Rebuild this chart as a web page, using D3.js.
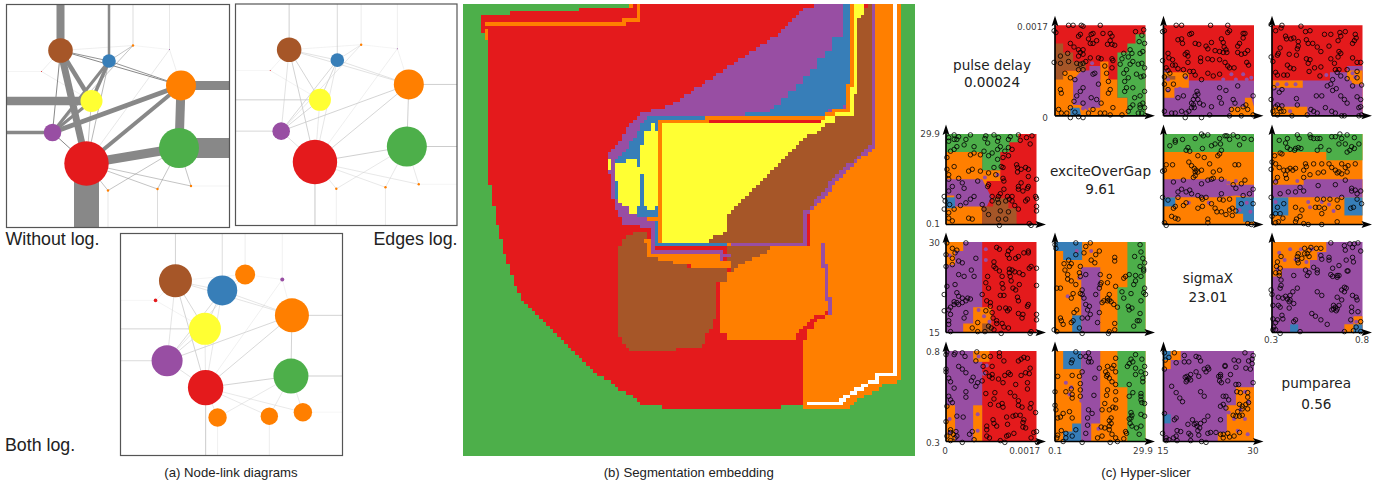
<!DOCTYPE html>
<html lang="en">
<head>
<meta charset="utf-8">
<title>Node-link, segmentation embedding and hyper-slicer</title>
<script src="https://d3js.org/d3.v7.min.js"></script>
<style>
  body { margin: 0; background: #fff; }
  .cap { font-family: "Liberation Sans", sans-serif; fill: #222; }
  .mpl { font-family: "DejaVu Sans", sans-serif; fill: #222; }
</style>
</head>
<body>
<script>
// Set1 colours, by letter
const colors = { r: "#e41a1c", b: "#377eb8", g: "#4daf4a", p: "#984ea3", o: "#ff7f00", y: "#ffff33", n: "#a65628", w: "#ffffff" };

// ---- (a) node-link data. Nodes 13+ sit outside the frame, they only anchor edges
const nodeColors = ["n", "b", "o", "y", "p", "r", "g", "o", "p", "r", "o", "o", "o"];
const nodeRadius = [12.3, 6.8, 15, 11, 8.8, 22.2, 20, 1.2, 0.5, 0.5, 1.2, 1.2, 1.2];
const nodeRadiusLog = [16.5, 15, 17, 16, 15.5, 17.7, 17.5, 10, 2, 1.8, 9.2, 8.7, 9.2];
const graphX = [54, 102.5, 174.5, 85, 46, 80, 172.5, 126.5, 163, 35, 101.5, 151, 184.5, 54, 102.5, 126.5, 163, 240, -20, -20, 240, 80, 101.5, 151, -20, 240];
const graphY = [46, 56.5, 81, 96.5, 128, 159, 143.5, 41, 45, 67, 186, 184.5, 181.5, -20, -20, -20, -20, 81, 96.5, 128, 143.5, 240, 240, 240, 67, 181.5];
const logGraphX = [55.2, 102.2, 172.2, 84.8, 46.8, 85.5, 171.2, 125.2, 162.5, 35.2, 97.5, 149.5, 183.2, 55.2, 102.2, 125.2, 162.5, 240, -20, -20, 240, 85.5, 97.5, 149.5, -20, 240];
const logGraphY = [47.5, 57.2, 82.2, 95.8, 127.8, 154.8, 143.2, 41.2, 46.2, 67.2, 184.8, 183.5, 179.5, -20, -20, -20, -20, 82.2, 95.8, 127.8, 143.2, 240, 240, 240, 67.2, 179.5];
const edgeList = [
  [0, 13, 8], [1, 14, 2.5], [7, 15, 0.3], [8, 16, 0.2], [2, 17, 9], [3, 18, 8.5], [4, 19, 3.5], [6, 20, 20], [5, 21, 25],
  [11, 23, 0.3], [10, 22, 0.2], [9, 24, 0.1], [12, 25, 0.1],
  [0, 5, 7], [0, 3, 4.5], [0, 1, 0.9], [0, 2, 1], [1, 2, 0.9], [1, 3, 3.5], [1, 4, 3], [1, 5, 0.6], [3, 4, 3], [3, 5, 0.5],
  [0, 4, 1], [4, 2, 5], [5, 2, 4], [5, 6, 9], [2, 6, 9], [4, 5, 1], [1, 7, 0.5], [0, 7, 0.15], [4, 7, 0.5], [5, 10, 0.5],
  [5, 11, 0.5], [5, 12, 0.5], [10, 6, 0.5], [11, 6, 0.5], [12, 6, 0.5], [9, 3, 0.15], [9, 0, 0.15], [8, 2, 0.15], [8, 5, 0.2], [7, 8, 0.1]
];

// ---- (b) segmentation regions, painted in order on a green ground, in embedding units
const segRed = [[65,100],[65,45],[155,45],[155,35],[355,35],[355,24],[510,24],[510,12],[1222,12],[1222,24],[1100,24],[1100,1212],[965,1212],[965,1223],[621,1223],[543,1212],[520,1190],[476,1168],[453,1145],[409,1123],[387,1100],[364,1080],[342,1057],[297,1012],[253,968],[209,923],[187,900],[176,880],[165,855],[153,812],[142,790],[131,745],[120,700],[108,655],[97,590],[88,545],[88,122],[77,122],[77,100]];
const segPurpleBand = [[1077,12],[1033,24],[1020,35],[1000,58],[978,80],[955,102],[922,124],[888,147],[855,168],[822,190],[788,212],[755,235],[722,258],[688,280],[655,302],[610,325],[555,336],[533,347],[510,370],[488,415],[465,435],[443,458],[443,525],[455,530],[455,580],[465,620],[478,645],[488,670],[545,680],[600,680],[610,350],[1160,350],[1160,12]];
const segBlue = [[1145,12],[1145,110],[1120,112],[1120,155],[1098,157],[1098,180],[1075,180],[1075,202],[1055,202],[1055,225],[1033,225],[1033,247],[1010,247],[1010,270],[988,270],[988,290],[965,290],[965,313],[943,313],[930,335],[855,335],[855,347],[575,347],[555,360],[533,395],[510,435],[488,460],[465,480],[470,600],[510,625],[530,650],[590,660],[598,720],[610,720],[610,360],[1077,350],[1120,325],[1155,320],[1155,258],[1165,258],[1165,12]];
const segBrownUp = [[1187,58],[1208,45],[1208,24],[1231,12],[1231,435],[1210,450],[1190,470],[1175,490],[1145,505],[1130,530],[1110,550],[1090,580],[1070,605],[1050,630],[1035,640],[1035,723],[740,723],[740,600],[1087,360],[1176,345],[1176,282],[1187,280]];
const segOrangeRight = [[1243,12],[1320,12],[1320,1145],[1275,1150],[1265,1165],[1240,1175],[1215,1190],[1190,1200],[1165,1223],[1033,1223],[1033,1025],[1043,1025],[1043,990],[1065,990],[1065,965],[1110,945],[1108,895],[1096,890],[1096,790],[1085,790],[1085,735],[1045,735],[1045,640],[1070,610],[1090,585],[1110,560],[1130,535],[1150,510],[1175,495],[1195,475],[1215,455],[1243,440]];
const segYellowMain = [[610,370],[1087,370],[1087,380],[1075,398],[1042,405],[1020,425],[998,447],[975,470],[953,490],[930,515],[908,537],[885,560],[865,580],[842,603],[820,625],[808,635],[798,658],[798,700],[755,712],[750,723],[610,723]];
const segYellowStrip = [[1177,12],[1208,12],[1208,45],[1187,58],[1187,280],[1176,282],[1176,345],[1135,347],[1122,368],[1087,378],[1087,360],[1135,335],[1165,335],[1165,260],[1177,258]];
const segYellowA = [[555,392],[575,392],[578,370],[586,370],[586,392],[597,392],[597,600],[587,620],[575,632],[565,632],[555,620],[555,520],[543,520],[543,435],[555,435]];
const segYellowB = [[465,490],[520,480],[530,472],[533,500],[543,500],[543,620],[510,620],[490,615],[478,612],[478,545],[465,545]];
const segYellowC = [[443,480],[455,480],[455,512],[443,512]];
const segYellowD = [[510,622],[530,622],[530,645],[510,645]];
const segBrownLow = [[487,725],[500,705],[555,690],[565,720],[565,768],[600,778],[643,788],[688,802],[800,802],[800,845],[765,845],[765,955],[755,960],[750,1000],[740,1005],[730,1030],[710,1045],[520,1055],[498,1040],[488,1020],[477,1000],[477,745]];
const segBrownSmall = [[800,735],[935,735],[920,755],[890,770],[865,782],[845,792],[822,810],[808,810],[808,780],[800,775]];
const segOrangeMid = [[777,845],[800,845],[800,810],[820,812],[845,792],[865,782],[885,770],[910,760],[930,750],[945,735],[1088,735],[1088,800],[1100,800],[1100,900],[1110,910],[1110,933],[1055,955],[1033,980],[1010,1000],[1010,1023],[800,1023],[800,1000],[777,1000]];
const segOrangeLow = [[555,715],[577,715],[577,755],[780,755],[780,780],[810,780],[810,802],[688,802],[688,788],[643,788],[643,778],[600,778],[600,768],[565,768]];
const segRegions = [
  ["r", segRed], ["p", segPurpleBand], ["b", segBlue], ["n", segBrownUp], ["o", segOrangeRight], ["y", segYellowStrip],
  ["n", segBrownLow], ["n", segBrownSmall], ["o", segOrangeMid], ["o", segOrangeLow], ["y", segYellowMain],
  ["y", segYellowA], ["y", segYellowB], ["y", segYellowC], ["y", segYellowD]
];
// one-cell wide outlines
const segLines = [
  ["o", [[82,74],[492,74],[492,63],[537,63],[537,12]]],
  ["o", [[82,90],[82,110]]],
  ["o", [[515,12],[515,20]]],
  ["o", [[1171,12],[1171,258],[1162,262],[1162,328],[1125,328],[1120,340],[1082,352],[604,362],[604,728],[820,728]]],
  ["p", [[1237,12],[1237,440],[1215,455],[1195,475],[1175,495],[1150,510],[1130,535],[1110,560],[1090,585],[1070,610],[1045,635],[1038,640],[1038,728],[822,728]]],
  ["p", [[1084,728],[1084,795],[1095,795],[1095,895],[1105,895],[1105,935]]],
  ["b", [[592,660],[592,738],[800,738]]],
  ["p", [[575,690],[575,750],[780,750],[780,775],[805,762]]],
  ["o", [[566,662],[590,662]]],
  ["w", [[1303,12],[1303,1125],[1255,1127],[1250,1140],[1225,1150],[1200,1165],[1175,1180],[1155,1195],[1145,1207],[1045,1207]]]
];

// ---- (c) sample pairs as percent of each parameter range, [x, y]
const excitePulse = [[15,100],[20,100],[29,100],[31,99],[50,100],[-1,94],[1,92],[89,93],[98,95],[96,89],[93,82],[99,80],[26,88],[28,90],[40,90],[42,91],[53,91],[61,91],[63,88],[37,85],[39,80],[42,80],[46,83],[61,83],[58,79],[63,79],[66,78],[17,80],[21,76],[26,73],[28,70],[31,73],[31,68],[26,66],[14,69],[6,66],[-1,59],[6,58],[15,60],[24,58],[28,57],[31,58],[34,60],[39,64],[48,64],[51,63],[63,63],[64,61],[76,69],[83,73],[85,69],[81,65],[94,69],[97,71],[86,60],[92,57],[96,58],[99,53],[83,57],[79,51],[76,47],[81,42],[77,38],[90,46],[95,43],[98,44],[74,63],[72,57],[26,51],[31,51],[42,46],[44,47],[55,55],[57,47],[63,53],[59,38],[61,29],[59,25],[48,35],[31,31],[28,27],[22,40],[17,42],[11,47],[6,29],[7,25],[24,22],[21,16],[31,14],[40,20],[46,18],[51,14],[42,7],[50,3],[55,3],[61,1],[64,9],[74,1],[79,31],[77,27],[86,31],[99,27],[94,22],[88,20],[97,14],[94,12],[86,12],[83,9],[81,5],[94,9],[99,9],[96,3],[92,3],[7,3],[13,3],[17,-2],[22,4],[17,9],[26,-1],[31,-2],[37,3],[4,7]];
const sigmaPulse = [[14,100],[20,100],[52,100],[71,100],[73,94],[-1,93],[1,94],[31,91],[29,90],[71,92],[88,91],[90,91],[88,86],[20,85],[21,80],[16,84],[35,80],[39,79],[53,81],[64,85],[66,81],[84,80],[82,77],[67,76],[69,73],[70,70],[57,72],[62,71],[66,70],[47,77],[49,74],[26,70],[24,68],[27,66],[5,69],[6,64],[10,62],[13,56],[10,56],[3,53],[5,50],[7,47],[-1,61],[27,59],[41,64],[41,60],[49,63],[54,62],[62,62],[68,59],[71,55],[73,53],[82,70],[86,68],[93,72],[90,69],[92,59],[94,56],[78,53],[29,49],[33,49],[35,45],[42,40],[49,47],[55,44],[62,46],[22,51],[16,52],[24,44],[1,43],[1,35],[5,29],[11,35],[62,31],[69,28],[82,33],[99,22],[37,27],[38,24],[35,22],[22,22],[16,20],[38,18],[44,12],[40,14],[33,12],[31,9],[28,5],[25,3],[20,5],[9,3],[13,3],[1,5],[24,-2],[34,9],[42,-2],[51,1],[53,10],[62,20],[64,14],[77,18],[79,14],[75,7],[82,7],[88,10],[91,12],[93,7],[99,1],[73,0],[86,0],[33,18],[31,14]];
const areaPulse = [[11,100],[10,97],[4,94],[-1,101],[32,99],[42,94],[37,93],[58,90],[65,90],[75,92],[81,93],[76,88],[73,83],[92,90],[93,86],[91,83],[89,80],[15,88],[16,85],[21,85],[24,86],[38,84],[40,80],[45,80],[29,82],[29,77],[28,74],[63,77],[50,76],[54,71],[9,75],[7,69],[6,67],[-1,65],[1,60],[19,68],[27,67],[38,63],[42,62],[40,58],[74,71],[76,69],[73,65],[89,64],[98,59],[94,59],[17,56],[20,53],[24,52],[41,49],[47,53],[54,54],[65,63],[69,58],[70,51],[74,51],[72,48],[76,44],[83,51],[83,41],[94,49],[4,48],[6,45],[13,45],[17,45],[53,44],[67,40],[65,35],[61,33],[71,30],[67,28],[89,33],[99,34],[94,42],[11,29],[8,26],[2,31],[27,19],[49,22],[55,22],[76,22],[80,18],[83,14],[94,21],[98,18],[-1,18],[6,12],[11,11],[4,10],[8,8],[13,5],[10,5],[1,5],[6,1],[28,12],[43,7],[46,5],[50,3],[59,9],[66,5],[70,3],[77,0],[80,0],[96,0],[99,1],[98,10],[96,9],[39,1],[22,0]];
const sigmaExcite = [[13,91],[7,87],[13,93],[21,94],[35,95],[42,100],[44,98],[49,99],[57,89],[53,87],[62,95],[68,98],[70,98],[77,99],[82,97],[89,95],[97,94],[73,94],[84,88],[63,89],[64,82],[60,76],[62,78],[25,82],[29,81],[27,85],[38,76],[43,84],[45,74],[10,66],[1,60],[-1,59],[3,66],[28,69],[31,65],[34,62],[36,60],[38,58],[35,58],[35,54],[33,52],[42,60],[51,67],[55,58],[62,60],[79,66],[83,66],[53,50],[55,51],[49,49],[11,47],[22,49],[42,45],[64,50],[80,40],[77,44],[90,49],[86,45],[99,39],[95,34],[88,32],[20,39],[16,36],[25,36],[29,38],[31,34],[38,32],[42,30],[43,28],[47,30],[16,30],[-1,30],[64,34],[62,28],[66,27],[73,28],[5,27],[13,20],[11,18],[22,21],[25,24],[38,18],[43,20],[57,18],[59,14],[64,14],[73,16],[76,18],[69,11],[76,10],[86,23],[53,23],[99,23],[9,9],[13,7],[16,6],[1,2],[3,-1],[49,6],[49,2],[93,1],[97,0],[80,15]];
const areaExcite = [[28,99],[42,99],[30,95],[17,95],[8,93],[43,96],[46,95],[50,95],[53,95],[66,97],[70,97],[75,100],[83,99],[77,95],[74,89],[81,89],[91,96],[96,89],[88,86],[86,82],[83,80],[91,84],[15,90],[17,85],[26,84],[29,85],[20,83],[25,82],[32,84],[9,79],[11,78],[3,76],[54,86],[63,82],[50,82],[4,67],[0,69],[-1,61],[8,63],[13,60],[17,60],[20,62],[23,60],[26,62],[37,67],[38,64],[46,67],[55,67],[66,63],[63,67],[70,60],[72,57],[74,58],[77,67],[81,63],[84,65],[92,67],[6,52],[15,55],[16,51],[35,60],[35,52],[42,55],[51,57],[57,58],[77,56],[83,58],[81,49],[4,47],[31,41],[35,37],[51,43],[70,44],[88,40],[92,38],[98,37],[94,34],[88,37],[-1,30],[9,34],[18,36],[26,36],[50,28],[57,28],[64,28],[72,27],[77,30],[94,28],[99,23],[90,19],[87,18],[13,23],[6,19],[26,19],[33,16],[48,19],[52,19],[58,18],[73,19],[4,12],[9,12],[0,9],[12,7],[7,3],[4,2],[31,9],[27,6],[26,3],[35,1],[40,0],[55,12],[72,3],[55,0]];
const areaSigma = [[65,99],[80,96],[86,98],[91,98],[95,99],[89,94],[81,91],[98,90],[43,94],[49,93],[54,93],[41,91],[36,93],[36,87],[39,87],[41,84],[29,87],[28,84],[28,80],[33,82],[29,77],[6,78],[10,84],[5,73],[9,71],[4,66],[8,66],[8,63],[54,85],[63,83],[63,80],[46,72],[55,81],[89,83],[90,78],[82,80],[67,71],[74,74],[50,69],[50,66],[37,69],[41,66],[39,63],[24,63],[65,64],[67,62],[72,63],[74,63],[72,61],[84,68],[83,68],[10,58],[10,52],[-1,47],[0,42],[9,49],[28,49],[23,45],[20,41],[15,40],[17,37],[20,36],[19,34],[12,38],[7,39],[24,32],[1,30],[7,30],[9,28],[19,27],[50,45],[55,41],[72,39],[80,50],[82,49],[77,47],[80,45],[89,41],[93,39],[94,36],[77,36],[68,30],[70,28],[72,26],[68,26],[74,30],[71,24],[66,25],[88,28],[88,23],[95,23],[44,21],[48,18],[54,14],[61,9],[11,19],[12,15],[1,15],[6,14],[4,11],[26,14],[24,12],[1,3],[9,-1],[31,1],[80,1],[90,2],[98,1],[93,6],[98,12],[2,6],[4,3],[87,14]];

// tile regions of each slice, percent of the ranges, painted in order
const slicePE = [["r",[[0,0],[100,0],[100,100],[0,100]]],
  ["o",[[0,50],[34,50],[34,40],[50,40],[50,60],[59,60],[59,40],[69,40],[69,20],[80,20],[80,0],[0,0]]],
  ["p",[[20,40],[30,50],[38,50],[38,55],[50,55],[50,9],[37,9],[37,5],[28,12],[20,12]]],
  ["b",[[17,9],[27,9],[29,0],[17,0]]],
  ["n",[[0,80],[9,80],[9,70],[20,70],[20,60],[34,60],[34,50],[9,50],[9,40],[0,40]]],
  ["g",[[89,90],[100,90],[100,0],[80,0],[80,20],[69,20],[69,70],[80,70],[80,80],[89,80]]]];
const slicePS = [["r",[[0,0],[100,0],[100,100],[0,100]]],
  ["p",[[0,50],[5,50],[5,39],[100,39],[100,0],[0,0]]],
  ["o",[[0,48],[28,48],[28,31],[12,31],[12,20],[0,20]]],
  ["n",[[2,44],[13,44],[13,40],[2,40]]],
  ["o",[[74,10],[90,10],[90,20],[97,20],[100,10],[100,0],[74,0]]]];
const slicePA = [["r",[[0,0],[100,0],[100,100],[0,100]]],
  ["p",[[0,39],[64,39],[64,48],[83,48],[83,55],[100,55],[100,0],[0,0]]],
  ["o",[[0,39],[34,39],[34,31],[0,31]]],
  ["o",[[0,10],[39,10],[39,1],[0,1]]],
  ["o",[[83,50],[100,50],[100,35],[90,35],[83,41]]]];
const sliceEP = [["r",[[0,0],[100,0],[100,100],[0,100]]],
  ["o",[[0,80],[40,80],[40,60],[60,60],[60,48],[45,48],[45,30],[40,20],[40,0],[0,0]]],
  ["p",[[0,50],[40,50],[50,30],[45,20],[9,20],[9,32],[0,32]]],
  ["b",[[0,30],[10,30],[10,18],[0,18]]],
  ["n",[[40,20],[52,20],[52,29],[69,29],[69,18],[78,18],[78,0],[40,0]]],
  ["g",[[0,100],[80,100],[80,91],[70,91],[70,80],[60,80],[60,60],[40,60],[40,80],[0,80]]]];
const sliceES = [["o",[[0,0],[100,0],[100,100],[0,100]]],
  ["g",[[0,100],[100,100],[100,80],[0,80]]],
  ["p",[[0,50],[70,50],[70,44],[100,44],[100,30],[80,32],[60,30],[0,30]]],
  ["b",[[0,30],[13,30],[13,20],[0,20]]],
  ["b",[[80,30],[100,30],[100,3],[88,3],[88,12],[80,12]]]];
const sliceEA = [["o",[[0,0],[100,0],[100,100],[0,100]]],
  ["g",[[0,100],[100,100],[100,71],[60,71],[60,80],[0,80]]],
  ["p",[[0,44],[35,44],[35,50],[100,50],[100,30],[0,30]]],
  ["b",[[0,30],[18,30],[18,10],[0,10]]],
  ["b",[[80,30],[100,30],[100,10],[80,10]]]];
const sliceSP = [["r",[[0,0],[100,0],[100,100],[0,100]]],
  ["p",[[0,100],[40,100],[40,0],[0,0]]],
  ["o",[[0,100],[19,100],[19,90],[10,90],[10,75],[0,75]]],
  ["o",[[30,28],[50,28],[50,0],[19,0],[19,10],[30,10]]],
  ["n",[[40,10],[50,10],[50,0],[40,0]]]];
const sliceSE = [["o",[[0,0],[100,0],[100,100],[0,100]]],
  ["g",[[80,100],[100,100],[100,0],[69,0],[69,50],[80,50]]],
  ["b",[[0,100],[30,100],[30,80],[9,80],[9,90],[0,90]]],
  ["p",[[29,72],[50,72],[50,0],[29,0]]],
  ["b",[[19,19],[29,19],[29,0],[19,0]]]];
const sliceSA = [["p",[[0,0],[100,0],[100,100],[0,100]]],
  ["o",[[0,100],[60,100],[60,89],[50,89],[50,80],[42,80],[42,71],[11,71],[11,62],[0,62]]],
  ["o",[[80,9],[90,9],[90,18],[100,18],[100,0],[80,0]]],
  ["b",[[90,9],[100,9],[100,0],[90,0]]],
  ["b",[[20,9],[29,9],[29,0],[20,0]]]];
const sliceAP = [["r",[[0,0],[100,0],[100,100],[0,100]]],
  ["p",[[0,100],[40,100],[40,0],[0,0]]],
  ["o",[[30,100],[48,100],[48,88],[30,88]]],
  ["o",[[0,40],[10,40],[10,0],[0,0]]],
  ["o",[[30,40],[40,40],[40,0],[30,0]]]];
const sliceAE = [["o",[[0,0],[100,0],[100,100],[0,100]]],
  ["g",[[69,100],[100,100],[100,0],[80,0],[80,60],[69,60]]],
  ["b",[[9,100],[29,100],[29,80],[9,80]]],
  ["p",[[29,100],[50,100],[50,20],[40,20],[40,0],[29,0]]],
  ["b",[[9,11],[19,11],[19,20],[29,20],[29,0],[9,0]]]];
const sliceAS = [["p",[[0,0],[100,0],[100,100],[0,100]]],
  ["b",[[0,100],[8,100],[8,90],[0,90]]],
  ["o",[[8,100],[19,100],[19,90],[8,90],[8,80],[0,80],[0,90],[8,90]]],
  ["b",[[0,30],[8,30],[8,20],[0,20]]],
  ["o",[[80,60],[100,60],[100,0],[60,0],[60,10],[70,10],[70,40],[80,40]]]];

// coloured dots the slicer leaves on tile borders, percent again
const dotsPE = [[41,58],[44,52],[28,45],[33,30],[31,8]];
const dotsPS = [[5,40],[5,28],[18,30],[25,42],[75,46],[88,46],[97,42],[66,40],[80,40],[92,40],[83,15]];
const dotsPA = [[6,35],[16,35],[26,35],[60,45],[74,47],[89,47],[92,43],[86,37],[20,5]];
const dotsEP = [[18,35],[43,52],[57,55],[15,25]];
const dotsES = [[72,46],[80,48],[88,40],[50,24],[28,24],[92,24],[84,16],[96,14]];
const dotsEA = [[28,48],[4,48],[40,25],[55,25],[63,22],[42,19],[4,25],[68,15]];
const dotsSP = [[44,92],[44,80],[4,85],[36,25],[42,18],[48,12]];
const dotsSE = [[24,90],[40,90],[27,60],[14,40],[35,15]];
const dotsSA = [[8,88],[20,92],[32,92],[44,92],[26,81],[14,80],[6,70],[38,78],[93,12]];
const dotsAP = [[36,94],[42,75],[45,84],[4,25],[4,10],[35,30],[35,12]];
const dotsAE = [[12,65],[16,52],[18,60],[48,14],[29,45]];
const dotsAS = [[90,55],[94,44],[85,35],[78,25],[90,25],[82,12],[93,8],[72,32]];

// diagonal labels and tick texts
const paramNames = ["pulse delay", "exciteOverGap", "sigmaX", "pumparea"];
const paramValues = ["0.00024", "9.61", "23.01", "0.56"];
const rangeLow = ["0", "0.1", "15", "0.3"];
const rangeHigh = ["0.0017", "29.9", "30", "0.8"];

const svg = d3.select("body").append("svg").attr("width", 1382).attr("height", 485);

// ---- (a) node-link diagrams
function drawGraph(id, left, top, size, xs, ys, radius, widthOf, edgeColor) {
  const x = d3.scaleLinear().domain([0, 223]).range([left, left + size]);
  const y = d3.scaleLinear().domain([0, 223]).range([top, top + size]);
  svg.append("clipPath").attr("id", id).append("rect")
    .attr("x", left).attr("y", top).attr("width", size).attr("height", size);
  const g = svg.append("g");
  g.append("g").attr("clip-path", "url(#" + id + ")")
    .selectAll("line").data(edgeList).join("line")
    .attr("x1", d => x(xs[d[0]])).attr("y1", d => y(ys[d[0]]))
    .attr("x2", d => x(xs[d[1]])).attr("y2", d => y(ys[d[1]]))
    .attr("stroke", edgeColor)
    .attr("stroke-width", d => widthOf(d[2]));
  g.selectAll("circle").data(nodeColors).join("circle")
    .attr("cx", (d, i) => x(xs[i])).attr("cy", (d, i) => y(ys[i]))
    .attr("r", (d, i) => radius[i])
    .attr("fill", d => colors[d]);
  g.append("rect").attr("x", left).attr("y", top).attr("width", size).attr("height", size)
    .attr("fill", "none").attr("stroke", "#555").attr("stroke-width", 1.2);
}
const logWidth = d3.scaleLog().domain([0.1, 25]).range([0.2, 1.1]);
drawGraph("g1", 6.5, 4.5, 223, graphX, graphY, nodeRadius, d => d, "#888");
drawGraph("g2", 235.5, 4, 221.5, graphX, graphY, nodeRadius, logWidth, "#ccc");
drawGraph("g3", 120.5, 233.5, 222, logGraphX, logGraphY, nodeRadiusLog, logWidth, "#d0d0d0");

// ---- (b) segmentation embedding: paint regions onto a cell grid
const segN = 125;
const segCell = d3.scaleLinear().domain([9, 1365]).range([0, segN]);
const segBandX = d3.scaleBand().domain(d3.range(segN)).range([463, 915]);
const segBandY = d3.scaleBand().domain(d3.range(segN)).range([4, 456]);
const segGrid = d3.range(segN).map(() => new Array(segN).fill("g"));
segRegions.forEach(([c, poly]) => {
  const inCells = poly.map(p => [segCell(p[0]), segCell(p[1] - 3)]);
  for (let j = 0; j < segN; j++) for (let i = 0; i < segN; i++) {
    if (d3.polygonContains(inCells, [i + 0.5, j + 0.5])) segGrid[j][i] = c;
  }
});
segLines.forEach(([c, pts]) => {
  d3.pairs(pts).forEach(([a, b]) => {
    const steps = Math.ceil(Math.hypot(b[0] - a[0], b[1] - a[1]) / 3) + 1;
    for (let s = 0; s <= steps; s++) {
      const i = Math.floor(segCell(a[0] + (b[0] - a[0]) * s / steps));
      const j = Math.floor(segCell(a[1] + (b[1] - a[1]) * s / steps - 3));
      if (i >= 0 && i < segN && j >= 0 && j < segN) segGrid[j][i] = c;
    }
  });
});
// merge runs per row so there are no seams
const segRuns = [];
segGrid.forEach((row, j) => {
  let start = 0;
  for (let i = 1; i <= segN; i++) {
    if (i === segN || row[i] !== row[start]) {
      segRuns.push({ i: start, j: j, len: i - start, c: row[start] });
      start = i;
    }
  }
});
svg.append("g").attr("shape-rendering", "crispEdges")
  .selectAll("rect").data(segRuns).join("rect")
  .attr("x", d => segBandX(d.i)).attr("y", d => segBandY(d.j))
  .attr("width", d => segBandX.step() * d.len + 0.3).attr("height", segBandY.step() + 0.3)
  .attr("fill", d => colors[d.c]);

// ---- (c) hyper-slicer
const panelX = [946, 1055, 1163.5, 1272];
const panelY = [25.3, 134, 242, 351];
const panelSize = 90.5;
const flip = list => list.map(d => [d[1], d[0]]);
// row, column, tiles, dots, dot colour, samples
const slices = [
  [0, 1, slicePE, dotsPE, "p", excitePulse], [0, 2, slicePS, dotsPS, "p", sigmaPulse], [0, 3, slicePA, dotsPA, "p", areaPulse],
  [1, 0, sliceEP, dotsEP, "p", flip(excitePulse)], [1, 2, sliceES, dotsES, "p", sigmaExcite], [1, 3, sliceEA, dotsEA, "p", areaExcite],
  [2, 0, sliceSP, dotsSP, "p", flip(sigmaPulse)], [2, 1, sliceSE, dotsSE, "p", flip(sigmaExcite)], [2, 3, sliceSA, dotsSA, "p", areaSigma],
  [3, 0, sliceAP, dotsAP, "p", flip(areaPulse)], [3, 1, sliceAE, dotsAE, "p", flip(areaExcite)], [3, 2, sliceAS, dotsAS, "p", flip(areaSigma)]
];
const arrowUp = "M0,-10.5L3.4,0L0,-2L-3.4,0Z";
slices.forEach(([row, col, tiles, dots, dotColor, samples]) => {
  const x = d3.scaleLinear().domain([0, 100]).range([panelX[col], panelX[col] + panelSize]);
  const y = d3.scaleLinear().domain([0, 100]).range([panelY[row] + panelSize, panelY[row]]);
  const outline = d3.line().x(d => x(d[0])).y(d => y(d[1]));
  const g = svg.append("g");
  g.selectAll("path.tile").data(tiles).join("path").attr("class", "tile")
    .attr("d", d => outline(d[1]) + "Z").attr("fill", d => colors[d[0]]);
  g.selectAll("circle.dot").data(dots).join("circle").attr("class", "dot")
    .attr("cx", d => x(d[0])).attr("cy", d => y(d[1])).attr("r", 2).attr("fill", colors[dotColor]);
  // axes with arrow heads
  const x0 = x(0), y0 = y(0);
  g.append("line").attr("x1", x0).attr("x2", x(100) + 1).attr("y1", y0).attr("y2", y0).attr("stroke", "#000").attr("stroke-width", 1.7);
  g.append("line").attr("x1", x0).attr("x2", x0).attr("y1", y0).attr("y2", y(100) - 1).attr("stroke", "#000").attr("stroke-width", 1.7);
  g.append("path").attr("d", arrowUp).attr("transform", "translate(" + x0 + "," + (y(100) + 1) + ")");
  g.append("path").attr("d", arrowUp).attr("transform", "translate(" + (x(100) - 1) + "," + y0 + ") rotate(90)");
  g.selectAll("circle.pt").data(samples).join("circle").attr("class", "pt")
    .attr("cx", d => x(d[0])).attr("cy", d => y(d[1])).attr("r", 2.25)
    .attr("fill", "none").attr("stroke", "#000").attr("stroke-width", 0.85).attr("stroke-opacity", 0.95);
});

// diagonal labels
const nameCenter = [992, 1100.5, 1208, 1316.3];
const nameBase = [70, 175.7, 283.3, 387.7];
const valueBase = [86.7, 194, 301.7, 409];
paramNames.forEach((n, i) => {
  svg.append("text").attr("class", "mpl").attr("x", nameCenter[i]).attr("y", nameBase[i])
    .attr("text-anchor", "middle").attr("font-size", 13.6).text(n);
  svg.append("text").attr("class", "mpl").attr("x", nameCenter[i]).attr("y", valueBase[i])
    .attr("text-anchor", "middle").attr("font-size", 13.6).text(paramValues[i]);
});

// tick labels: y ranges on the left of each row, x ranges under the last panel of a column
function tick(x, y, text, anchor) {
  svg.append("text").attr("class", "mpl").attr("x", x).attr("y", y)
    .attr("text-anchor", anchor).attr("font-size", 8.9).attr("fill-opacity", 0.9).text(text);
}
const yTickRight = [1048, 940, 940, 940];
const yHighBase = [30, 137.3, 245.7, 355];
const yLowBase = [120.7, 227.3, 336, 445.7];
rangeHigh.forEach((t, i) => {
  tick(yTickRight[i], yHighBase[i], t, "end");
  tick(yTickRight[i], yLowBase[i], rangeLow[i], "end");
});
const xLowCenter = [945, 1055, 1163, 1271];
const xHighCenter = [1024.7, 1143, 1253, 1362];
const xBase = [454.3, 454.3, 454.3, 343.3];
rangeHigh.forEach((t, i) => {
  tick(xLowCenter[i], xBase[i], rangeLow[i], "middle");
  tick(xHighCenter[i], xBase[i], t, "middle");
});

// captions
const captions = ["(a) Node-link diagrams", "(b) Segmentation embedding", "(c) Hyper-slicer"];
const captionX = [231, 688.7, 1146];
captions.forEach((c, i) => {
  svg.append("text").attr("class", "cap").attr("x", captionX[i]).attr("y", 476.5)
    .attr("text-anchor", "middle").attr("font-size", 13.2).text(c);
});
const graphNotes = ["Without log.", "Edges log.", "Both log."];
const noteX = [5.5, 457.5, 5];
const noteY = [245, 245, 450.7];
const noteAnchor = ["start", "end", "start"];
graphNotes.forEach((c, i) => {
  svg.append("text").attr("class", "cap").attr("x", noteX[i]).attr("y", noteY[i])
    .attr("text-anchor", noteAnchor[i]).attr("font-size", 17.8).text(c);
});
</script>
</body>
</html>
